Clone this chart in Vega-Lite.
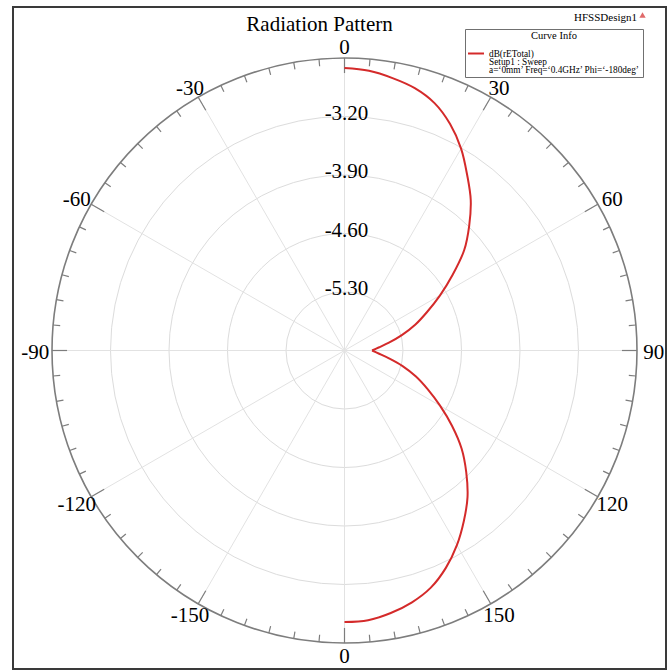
{
  "$schema": "https://vega.github.io/schema/vega-lite/v6.json",
  "width": 653,
  "height": 662,
  "autosize": {"type": "none"},
  "padding": {"left": 13, "top": 7, "right": 3, "bottom": 2},
  "background": "white",
  "view": {"stroke": "#3a3a3a", "strokeWidth": 2},
  "title": {
    "text": "Radiation Pattern",
    "font": "Liberation Serif",
    "fontSize": 21,
    "fontWeight": "normal",
    "color": "black",
    "anchor": "middle",
    "frame": "group",
    "dx": -20,
    "offset": -45,
    "baseline": "alphabetic"
  },
  "datasets": {
    "curve": [
      {"angle": 0, "db": -2.62}, {"angle": 5, "db": -2.64}, {"angle": 10, "db": -2.69},
      {"angle": 15, "db": -2.75}, {"angle": 20, "db": -2.85}, {"angle": 25, "db": -3.01},
      {"angle": 30, "db": -3.21}, {"angle": 35, "db": -3.44}, {"angle": 40, "db": -3.65},
      {"angle": 45, "db": -3.89}, {"angle": 50, "db": -4.13}, {"angle": 55, "db": -4.42},
      {"angle": 60, "db": -4.68}, {"angle": 65, "db": -4.91}, {"angle": 70, "db": -5.10},
      {"angle": 75, "db": -5.29}, {"angle": 80, "db": -5.46}, {"angle": 85, "db": -5.59},
      {"angle": 90, "db": -5.67}, {"angle": 95, "db": -5.59}, {"angle": 100, "db": -5.46},
      {"angle": 105, "db": -5.28}, {"angle": 110, "db": -5.09}, {"angle": 115, "db": -4.90},
      {"angle": 120, "db": -4.68}, {"angle": 125, "db": -4.43}, {"angle": 130, "db": -4.17},
      {"angle": 135, "db": -3.94}, {"angle": 140, "db": -3.71}, {"angle": 145, "db": -3.51},
      {"angle": 150, "db": -3.31}, {"angle": 155, "db": -3.13}, {"angle": 160, "db": -2.98},
      {"angle": 165, "db": -2.88}, {"angle": 170, "db": -2.81}, {"angle": 175, "db": -2.76},
      {"angle": 180, "db": -2.75}
    ],
    "rings": [
      {"db": -5.3, "label": "-5.30"}, {"db": -4.6, "label": "-4.60"},
      {"db": -3.9, "label": "-3.90"}, {"db": -3.2, "label": "-3.20"}
    ],
    "outer": [
      {"db": -2.5}
    ],
    "spokes": [
      {"angle": 0}, {"angle": 30}, {"angle": 60}, {"angle": 90}, {"angle": 120}, {"angle": 150},
      {"angle": 180}, {"angle": 210}, {"angle": 240}, {"angle": 270}, {"angle": 300}, {"angle": 330}
    ],
    "ticks": [
      {"angle": 0}, {"angle": 5}, {"angle": 10}, {"angle": 15}, {"angle": 20}, {"angle": 25},
      {"angle": 30}, {"angle": 35}, {"angle": 40}, {"angle": 45}, {"angle": 50}, {"angle": 55},
      {"angle": 60}, {"angle": 65}, {"angle": 70}, {"angle": 75}, {"angle": 80}, {"angle": 85},
      {"angle": 90}, {"angle": 95}, {"angle": 100}, {"angle": 105}, {"angle": 110}, {"angle": 115},
      {"angle": 120}, {"angle": 125}, {"angle": 130}, {"angle": 135}, {"angle": 140}, {"angle": 145},
      {"angle": 150}, {"angle": 155}, {"angle": 160}, {"angle": 165}, {"angle": 170}, {"angle": 175},
      {"angle": 180}, {"angle": 185}, {"angle": 190}, {"angle": 195}, {"angle": 200}, {"angle": 205},
      {"angle": 210}, {"angle": 215}, {"angle": 220}, {"angle": 225}, {"angle": 230}, {"angle": 235},
      {"angle": 240}, {"angle": 245}, {"angle": 250}, {"angle": 255}, {"angle": 260}, {"angle": 265},
      {"angle": 270}, {"angle": 275}, {"angle": 280}, {"angle": 285}, {"angle": 290}, {"angle": 295},
      {"angle": 300}, {"angle": 305}, {"angle": 310}, {"angle": 315}, {"angle": 320}, {"angle": 325},
      {"angle": 330}, {"angle": 335}, {"angle": 340}, {"angle": 345}, {"angle": 350}, {"angle": 355}
    ],
    "angleLabels": [
      {"angle": 0, "label": "0"}, {"angle": 30, "label": "30"}, {"angle": 60, "label": "60"},
      {"angle": 90, "label": "90"}, {"angle": 120, "label": "120"}, {"angle": 150, "label": "150"},
      {"angle": 180, "label": "0"}, {"angle": 210, "label": "-150"}, {"angle": 240, "label": "-120"},
      {"angle": 270, "label": "-90"}, {"angle": 300, "label": "-60"}, {"angle": 330, "label": "-30"}
    ],
    "design": [
      {"name": "HFSSDesign1"}
    ]
  },
  "layer": [
    {
      "data": {"name": "rings"},
      "transform": [{"calculate": "datum.db + 6", "as": "u"}],
      "mark": {"type": "point", "shape": "circle", "filled": false, "color": "#dcdcdc", "strokeWidth": 1, "opacity": 1},
      "encoding": {
        "x": {"datum": 0, "type": "quantitative", "scale": {"domain": [-3.5, 3.5], "range": [39, 624], "nice": false, "zero": false}, "axis": null},
        "y": {"datum": 0, "type": "quantitative", "scale": {"domain": [-3.5, 3.5], "range": [636, 51], "nice": false, "zero": false}, "axis": null},
        "size": {"field": "u", "type": "quantitative", "scale": {"type": "pow", "exponent": 2, "domain": [0, 3.5], "range": [0, 342225], "zero": true, "nice": false}, "legend": null}
      }
    },
    {
      "data": {"name": "spokes"},
      "transform": [
        {"calculate": "3.5 * sin(datum.angle * PI / 180)", "as": "xe"},
        {"calculate": "3.5 * cos(datum.angle * PI / 180)", "as": "ye"},
        {"calculate": "0", "as": "x0"}
      ],
      "mark": {"type": "rule", "color": "#e2e2e2", "strokeWidth": 1},
      "encoding": {
        "x": {"field": "x0", "type": "quantitative", "axis": null},
        "y": {"field": "x0", "type": "quantitative", "axis": null},
        "x2": {"field": "xe"},
        "y2": {"field": "ye"}
      }
    },
    {
      "data": {"name": "outer"},
      "transform": [{"calculate": "datum.db + 6", "as": "u"}],
      "mark": {"type": "point", "shape": "circle", "filled": false, "color": "#7d7d7d", "strokeWidth": 1.6, "opacity": 1},
      "encoding": {
        "x": {"datum": 0, "type": "quantitative", "axis": null},
        "y": {"datum": 0, "type": "quantitative", "axis": null},
        "size": {"field": "u", "type": "quantitative", "legend": null}
      }
    },
    {
      "data": {"name": "ticks"},
      "transform": [
        {"calculate": "datum.angle % 30 == 0 ? 0.18 : 0.085", "as": "len"},
        {"calculate": "3.5 * sin(datum.angle * PI / 180)", "as": "xa"},
        {"calculate": "3.5 * cos(datum.angle * PI / 180)", "as": "ya"},
        {"calculate": "(3.5 - datum.len) * sin(datum.angle * PI / 180)", "as": "xb"},
        {"calculate": "(3.5 - datum.len) * cos(datum.angle * PI / 180)", "as": "yb"}
      ],
      "mark": {"type": "rule", "color": "#7d7d7d", "strokeWidth": 1.2},
      "encoding": {
        "x": {"field": "xa", "type": "quantitative", "axis": null},
        "y": {"field": "ya", "type": "quantitative", "axis": null},
        "x2": {"field": "xb"},
        "y2": {"field": "yb"}
      }
    },
    {
      "data": {"name": "rings"},
      "transform": [{"calculate": "datum.db + 6", "as": "u"}],
      "mark": {"type": "text", "font": "Liberation Serif", "fontSize": 21, "color": "black", "align": "center", "baseline": "alphabetic", "dx": 2, "dy": 3},
      "encoding": {
        "x": {"datum": 0, "type": "quantitative", "axis": null},
        "y": {"field": "u", "type": "quantitative", "axis": null},
        "text": {"field": "label"}
      }
    },
    {
      "data": {"name": "angleLabels"},
      "transform": [
        {"calculate": "3.70 * sin(datum.angle * PI / 180)", "as": "xl"},
        {"calculate": "3.64 * cos(datum.angle * PI / 180)", "as": "yl"}
      ],
      "mark": {"type": "text", "font": "Liberation Serif", "fontSize": 21, "color": "black", "align": "center", "baseline": "middle", "dy": 2},
      "encoding": {
        "x": {"field": "xl", "type": "quantitative", "axis": null},
        "y": {"field": "yl", "type": "quantitative", "axis": null},
        "text": {"field": "label"}
      }
    },
    {
      "data": {"name": "curve"},
      "transform": [
        {"filter": "datum.angle <= 90"},
        {"calculate": "datum.db + 6", "as": "u"},
        {"calculate": "datum.u * sin(datum.angle * PI / 180)", "as": "px"},
        {"calculate": "datum.u * cos(datum.angle * PI / 180)", "as": "py"},
        {"calculate": "'dB(rETotal)'", "as": "series"}
      ],
      "mark": {"type": "line", "strokeWidth": 2, "interpolate": "catmull-rom"},
      "encoding": {
        "x": {"field": "px", "type": "quantitative", "axis": null},
        "y": {"field": "py", "type": "quantitative", "axis": null},
        "order": {"field": "angle", "type": "quantitative"},
        "color": {
          "field": "series",
          "type": "nominal",
          "scale": {"range": ["#d42a2a"]},
          "legend": {
            "title": "Curve Info",
            "orient": "none",
            "legendX": 452,
            "legendY": 22,
            "strokeColor": "#707070",
            "fillColor": "white",
            "padding": 2,
            "titlePadding": 3,
            "titleFont": "Liberation Serif",
            "titleFontSize": 10.5,
            "titleFontWeight": "normal",
            "titleColor": "black",
            "titleAnchor": "middle",
            "labelFont": "Liberation Serif",
            "labelFontSize": 9.3,
            "labelColor": "black",
            "labelLimit": 400,
            "symbolType": "stroke",
            "symbolSize": 256,
            "symbolStrokeWidth": 2,
            "labelExpr": "['dB(rETotal)', 'Setup1 : Sweep', 'a=‘0mm’ Freq=‘0.4GHz’ Phi=‘-180deg’']",
            "encode": {"labels": {"update": {"lineHeight": {"value": 8}}}}
          }
        }
      }
    },
    {
      "data": {"name": "curve"},
      "transform": [
        {"filter": "datum.angle >= 90"},
        {"calculate": "datum.db + 6", "as": "u"},
        {"calculate": "datum.u * sin(datum.angle * PI / 180)", "as": "px"},
        {"calculate": "datum.u * cos(datum.angle * PI / 180)", "as": "py"},
        {"calculate": "'dB(rETotal)'", "as": "series"}
      ],
      "mark": {"type": "line", "strokeWidth": 2, "interpolate": "catmull-rom"},
      "encoding": {
        "x": {"field": "px", "type": "quantitative", "axis": null},
        "y": {"field": "py", "type": "quantitative", "axis": null},
        "order": {"field": "angle", "type": "quantitative"},
        "color": {"field": "series", "type": "nominal"}
      }
    },
    {
      "data": {"name": "design"},
      "mark": {"type": "text", "font": "Liberation Serif", "fontSize": 11, "color": "black", "align": "right", "baseline": "alphabetic"},
      "encoding": {
        "x": {"datum": 3.5, "type": "quantitative", "axis": null},
        "y": {"datum": 3.943, "type": "quantitative", "axis": null},
        "text": {"field": "name"}
      }
    },
    {
      "data": {"name": "design"},
      "mark": {"type": "point", "shape": "triangle-up", "filled": true, "color": "#e06a6a", "size": 40, "opacity": 1},
      "encoding": {
        "x": {"datum": 3.566, "type": "quantitative", "axis": null},
        "y": {"datum": 4.015, "type": "quantitative", "axis": null}
      }
    }
  ]
}
